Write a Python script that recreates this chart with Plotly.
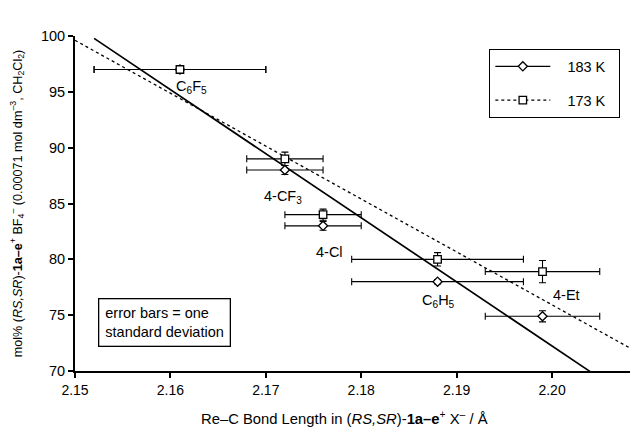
import numpy as np
import plotly.graph_objects as go

# ---- data ----
substituents = ["C6F5", "4-CF3", "4-Cl", "C6H5", "4-Et"]
bond_length = [2.161, 2.172, 2.176, 2.188, 2.199]          # Re-C / Å
bond_err = [0.009, 0.004, 0.004, 0.009, 0.006]
mol_183 = [97.0, 88.0, 83.0, 78.0, 74.9]
mol_183_err = [0.2, 0.4, 0.4, 0.2, 0.5]
mol_173 = [97.0, 89.0, 84.0, 80.0, 78.9]
mol_173_err = [0.3, 0.6, 0.5, 0.6, 1.0]
fit183_x = [2.152, 2.204]
fit173_x = [2.150, 2.2088]
label_text = ["C<sub>6</sub>F<sub>5</sub>", "4-CF<sub>3</sub>", "4-Cl",
              "C<sub>6</sub>H<sub>5</sub>", "4-Et"]
label_x = [2.1622, 2.1718, 2.1767, 2.1881, 2.2015]
label_y = [95.45, 85.6, 80.7, 76.25, 76.8]
x_ticks = [2.15, 2.16, 2.17, 2.18, 2.19, 2.20]
x_ticktext = ["2.15", "2.16", "2.17", "2.18", "2.19", "2.20"]
y_ticks = [70, 75, 80, 85, 90, 95, 100]

FONT = "Liberation Sans, Arial, sans-serif"
PAD = "\u00a0"

p183 = np.polyfit(bond_length, mol_183, 1)
p173 = np.polyfit(bond_length, mol_173, 1)

fig = go.Figure()

# fit lines
fig.add_trace(go.Scatter(x=fit173_x, y=np.polyval(p173, fit173_x), mode="lines",
                         line=dict(color="black", width=1.3, dash="dot"),
                         showlegend=False, hoverinfo="skip"))
fig.add_trace(go.Scatter(x=fit183_x, y=np.polyval(p183, fit183_x), mode="lines",
                         line=dict(color="black", width=1.7),
                         showlegend=False, hoverinfo="skip"))

err_style = dict(type="data", color="black", thickness=1.1, width=3.5)

fig.add_trace(go.Scatter(
    x=bond_length, y=mol_183, mode="markers", showlegend=False,
    marker=dict(symbol="diamond", size=7, color="white",
                line=dict(color="black", width=1.3)),
    error_x=dict(array=bond_err, **err_style),
    error_y=dict(array=mol_183_err, **err_style)))
fig.add_trace(go.Scatter(
    x=bond_length, y=mol_173, mode="markers", showlegend=False,
    marker=dict(symbol="square", size=7.5, color="white",
                line=dict(color="black", width=1.3)),
    error_x=dict(array=bond_err, **err_style),
    error_y=dict(array=mol_173_err, **err_style)))

# legend entries
fig.add_trace(go.Scatter(x=[None], y=[None], mode="lines+markers",
                         name=PAD * 3 + "183 K" + PAD * 2,
                         legendgroup="a",
                         line=dict(color="black", width=1.3),
                         marker=dict(symbol="diamond", size=7, color="white",
                                     line=dict(color="black", width=1.3))))
fig.add_trace(go.Scatter(x=[None], y=[None], mode="lines+markers",
                         name=PAD * 3 + "173 K" + PAD * 2,
                         legendgroup="b",
                         line=dict(color="black", width=1.3, dash="dot"),
                         marker=dict(symbol="square", size=7.5, color="white",
                                     line=dict(color="black", width=1.3))))

for t, x, y in zip(label_text, label_x, label_y):
    fig.add_annotation(x=x, y=y, text=t, showarrow=False,
                       font=dict(family=FONT, size=14.5, color="black"))

fig.add_annotation(xref="paper", yref="paper", x=0.041, y=0.146,
                   xanchor="left", yanchor="middle",
                   text="error bars = one<br>standard deviation", align="left",
                   showarrow=False, bordercolor="black", borderwidth=1.3,
                   borderpad=6, bgcolor="white",
                   font=dict(family=FONT, size=14.5, color="black"))

# x-axis title
fig.add_annotation(xref="paper", yref="paper", x=0.481, y=-0.140,
                   xanchor="center", yanchor="middle", showarrow=False,
                   text="Re–C Bond Length in (<i>RS,SR</i>)-<b>1a–e</b><sup>+</sup> X<sup>–</sup> / Å",
                   font=dict(family=FONT, size=14.8, color="black"))

# page body has an 8 px margin, so the figure is drawn 8 px smaller
fig.update_layout(
    width=630, height=423,
    margin=dict(l=67, r=2, t=28, b=60),
    paper_bgcolor="white", plot_bgcolor="white",
    font=dict(family=FONT, size=14, color="black"),
    legend=dict(x=0.738, y=0.961, xanchor="left", yanchor="top",
                bordercolor="black", borderwidth=1.3, bgcolor="white",
                traceorder="grouped", tracegroupgap=12, itemwidth=55,
                font=dict(family=FONT, size=14.5)),
    xaxis=dict(range=[2.15, 2.2088], tickvals=x_ticks, ticktext=x_ticktext,
               showgrid=False, zeroline=False, showline=True, linecolor="black",
               linewidth=1.8, ticks="outside", ticklen=5, tickcolor="black",
               tickwidth=1.5, tickfont=dict(size=14)),
    yaxis=dict(range=[70, 100], tickvals=y_ticks,
               showgrid=False, zeroline=False, showline=True, linecolor="black",
               linewidth=1.8, ticks="outside", ticklen=5, tickcolor="black",
               tickwidth=1.5, tickfont=dict(size=14.5),
               title=dict(text="mol% (<i>RS,SR</i>)-<b>1a–e</b><sup>+</sup> BF<sub>4</sub><sup>–</sup> (0.00071 mol dm<sup>–3</sup>, CH<sub>2</sub>Cl<sub>2</sub>)",
                          standoff=16, font=dict(size=12.6))),
)

fig.write_html("out.html")
